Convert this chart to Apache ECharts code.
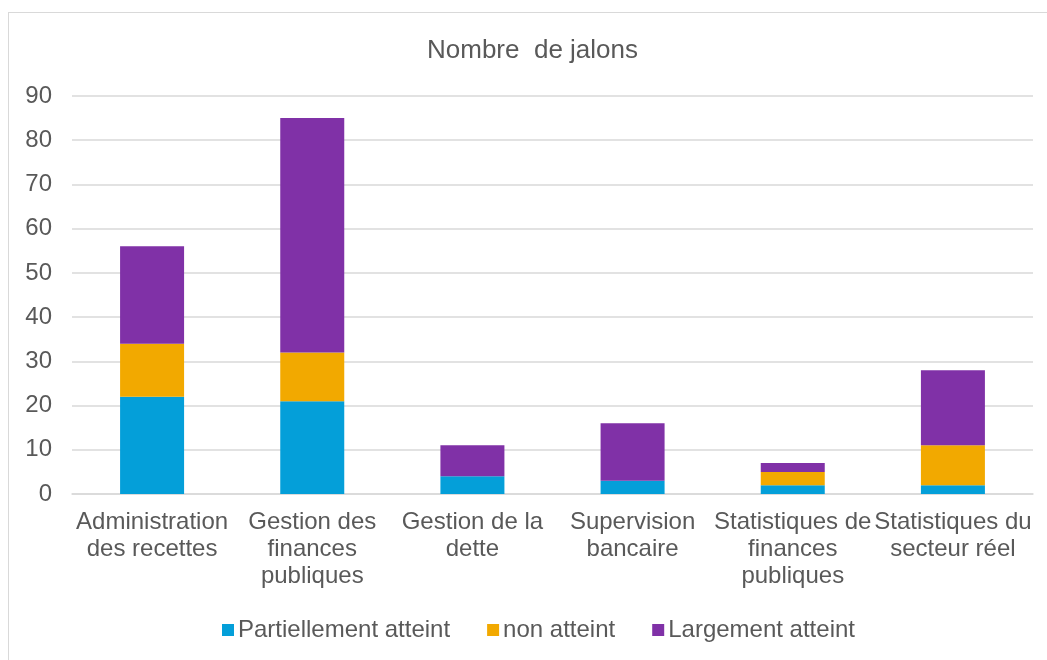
<!DOCTYPE html>
<html>
<head>
<meta charset="utf-8">
<script src="https://cdn.jsdelivr.net/npm/echarts@6/dist/echarts.min.js"></script>
<style>
  html, body { margin: 0; padding: 0; background: #fff; }
  #frame { position: absolute; left: 8px; top: 12px; width: 1060px; height: 670px; border: 1px solid #d9d9d9; box-sizing: border-box; }
  #chart { position: absolute; left: 0; top: 0; width: 1047px; height: 660px; }
</style>
</head>
<body>
<div id="frame"></div>
<div id="chart"></div>
<script>
// Categories and stacked values
const categories = [
    'Administration\ndes recettes',
    'Gestion des\nfinances\npubliques',
    'Gestion de la\ndette',
    'Supervision\nbancaire',
    'Statistiques de\nfinances\npubliques',
    'Statistiques du\nsecteur réel'
];
const partiellement = [22, 21, 4, 3, 2, 2];
const nonAtteint = [12, 11, 0, 0, 3, 9];
const largement = [22, 53, 7, 13, 2, 17];

const seriesNames = ['Partiellement atteint', 'non atteint', 'Largement atteint'];
const seriesColors = ['#049fd9', '#f2a900', '#8031a7'];

const textColor = '#595959';
const font = 'Liberation Sans, Arial, sans-serif';

function bar(name, data, color) {
    return {
        name: name,
        type: 'bar',
        stack: 'total',
        data: data,
        barWidth: 64,
        itemStyle: { color: color },
        emphasis: { disabled: true }
    };
}

const chart = echarts.init(document.getElementById('chart'));
chart.setOption({
    animation: false,
    textStyle: { fontFamily: font },
    title: {
        text: 'Nombre  de jalons',
        left: 427,
        top: 38,
        padding: 0,
        textStyle: { fontSize: 26, fontWeight: 'normal', color: textColor, fontFamily: font }
    },
    legend: {
        top: 618,
        left: 222,
        padding: 0,
        itemWidth: 12,
        itemHeight: 12,
        itemGap: 37,
        icon: 'rect',
        textStyle: { fontSize: 24, color: textColor, fontFamily: font, padding: [0, 0, 0, -1] },
        data: seriesNames
    },
    grid: { left: 72, right: 14, top: 96, bottom: 166, containLabel: false },
    xAxis: {
        type: 'category',
        data: categories,
        axisTick: { show: false },
        axisLine: { lineStyle: { color: '#d9d9d9', width: 1.5 } },
        axisLabel: {
            color: textColor, fontSize: 24, lineHeight: 27, margin: 15,
            interval: 0, fontFamily: font
        }
    },
    yAxis: {
        type: 'value',
        min: 0,
        max: 90,
        interval: 10,
        axisLine: { show: false },
        axisTick: { show: false },
        splitLine: { lineStyle: { color: '#d9d9d9', width: 1.5 } },
        axisLabel: { color: textColor, fontSize: 24, margin: 20, fontFamily: font }
    },
    series: [
        bar(seriesNames[0], partiellement, seriesColors[0]),
        bar(seriesNames[1], nonAtteint, seriesColors[1]),
        bar(seriesNames[2], largement, seriesColors[2])
    ]
});
</script>
</body>
</html>
